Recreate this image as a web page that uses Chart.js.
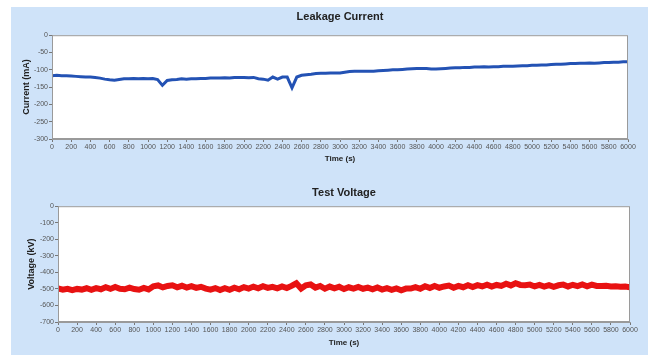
<!DOCTYPE html>
<html>
<head>
<meta charset="utf-8">
<script src="https://cdn.jsdelivr.net/npm/chart.js@4"></script>
<style>
  body { margin: 0; background: #fff; }
  #panel { position: absolute; left: 11px; top: 7px; width: 637px; height: 348px; background: #cfe3f9; }
  #c1 { position: absolute; left: 0; top: 0; }
  #c2 { position: absolute; left: 0; top: 163px; }
</style>
</head>
<body>
<div id="panel">
  <canvas id="c1" width="637" height="163"></canvas>
  <canvas id="c2" width="637" height="185"></canvas>
</div>
<script>
const times = [
  0, 50, 100, 150, 200, 250, 300, 350, 400, 450,
  500, 550, 600, 650, 700, 750, 800, 850, 900, 950,
  1000, 1050, 1100, 1150, 1200, 1250, 1300, 1350, 1400, 1450,
  1500, 1550, 1600, 1650, 1700, 1750, 1800, 1850, 1900, 1950,
  2000, 2050, 2100, 2150, 2200, 2250, 2300, 2350, 2400, 2450,
  2500, 2550, 2600, 2650, 2700, 2750, 2800, 2850, 2900, 2950,
  3000, 3050, 3100, 3150, 3200, 3250, 3300, 3350, 3400, 3450,
  3500, 3550, 3600, 3650, 3700, 3750, 3800, 3850, 3900, 3950,
  4000, 4050, 4100, 4150, 4200, 4250, 4300, 4350, 4400, 4450,
  4500, 4550, 4600, 4650, 4700, 4750, 4800, 4850, 4900, 4950,
  5000, 5050, 5100, 5150, 5200, 5250, 5300, 5350, 5400, 5450,
  5500, 5550, 5600, 5650, 5700, 5750, 5800, 5850, 5900, 5950,
  6000
];

// leakage current (mA)
const current = [
  -117, -116, -117, -117, -118, -119, -120, -121, -121, -122,
  -124, -127, -129, -130, -128, -126, -126, -125, -126, -125,
  -126, -125, -128, -145, -131, -129, -128, -126, -127, -126,
  -126, -125, -125, -124, -124, -124, -123, -124, -122, -122,
  -122, -123, -122, -126, -127, -130, -121, -127, -121, -121,
  -152, -121, -116, -114, -113, -111, -110, -110, -109, -109,
  -109, -107, -105, -104, -104, -104, -104, -104, -103, -102,
  -101, -100, -100, -99, -98, -97, -96, -96, -96, -98,
  -98, -97, -96, -95, -94, -94, -93, -93, -92, -92,
  -91, -92, -91, -91, -90, -90, -90, -89, -88, -88,
  -87, -87, -86, -86, -85, -84, -84, -83, -82, -82,
  -81, -81, -80, -81, -80, -79, -79, -78, -78, -77,
  -77
];

// test voltage (kV)
const voltage = [
  -497, -505, -499, -507, -500, -504, -496, -506, -495, -502,
  -490, -500, -488, -499, -502, -492, -501, -505, -494, -503,
  -484, -479, -491, -482, -478, -490, -481, -492, -483, -494,
  -487, -498, -504, -495, -507, -496, -505, -493, -502, -489,
  -498, -486, -496, -484, -494, -487, -496, -485, -495, -482,
  -466, -498, -478, -473, -492, -482, -499, -486, -497, -487,
  -501, -490, -498, -488, -499, -492, -502, -491, -504, -495,
  -506, -497, -508, -498, -498, -489, -499, -484, -494, -482,
  -493, -485, -480, -493, -482, -490, -478, -489, -477, -485,
  -474, -486, -476, -482, -469, -479, -466, -476, -478, -474,
  -485, -476, -486, -477, -487, -478, -474, -485, -475, -483,
  -473, -484, -474, -482, -482, -481, -485, -484, -487, -486,
  -490
];

const plotBox = {
  id: 'plotBox',
  beforeDraw(chart) {
    const a = chart.chartArea, ctx = chart.ctx;
    ctx.save();
    ctx.fillStyle = '#fff';
    ctx.fillRect(a.left, a.top, a.right - a.left, a.bottom - a.top);
    ctx.restore();
  },
  afterDraw(chart) {
    const a = chart.chartArea, ctx = chart.ctx;
    ctx.save();
    ctx.strokeStyle = '#9a9a9a';
    ctx.lineWidth = 1;
    ctx.strokeRect(a.left + 0.5, a.top + 0.5, a.right - a.left - 1, a.bottom - a.top - 1);
    ctx.restore();
  }
};

function make_options(title, yTitle, yMin, yStep, s) {
  return {
    responsive: false,
    animation: false,
    layout: { padding: { left: 0, right: s.right, top: 0, bottom: s.bottom } },
    plugins: {
      legend: { display: false },
      tooltip: { enabled: false },
      title: {
        display: true,
        fullSize: false,
        text: title,
        color: '#222',
        font: { family: 'Liberation Sans', size: 11, weight: 'bold' },
        padding: { top: s.titleTop, bottom: s.titleBottom }
      }
    },
    scales: {
      x: {
        type: 'linear',
        min: 0,
        max: 6000,
        grid: { drawOnChartArea: false, tickLength: 3, color: '#777' },
        border: { color: '#9a9a9a' },
        ticks: {
          stepSize: 200,
          autoSkip: false,
          maxRotation: 0,
          padding: 1,
          color: '#555',
          font: { family: 'Liberation Sans', size: 7 },
          callback: (v) => String(v)
        },
        title: {
          display: true,
          text: 'Time (s)',
          color: '#222',
          font: { family: 'Liberation Sans', size: 8, weight: 'bold' },
          padding: { top: 2, bottom: 0 }
        },
        afterFit(scale) { scale.height = s.xHeight; }
      },
      y: {
        min: yMin,
        max: 0,
        grid: { drawOnChartArea: false, tickLength: 3, color: '#777' },
        border: { color: '#9a9a9a' },
        ticks: {
          stepSize: yStep,
          padding: 1,
          color: '#555',
          font: { family: 'Liberation Sans', size: 7 },
          callback: (v) => String(v)
        },
        title: {
          display: true,
          text: yTitle,
          color: '#222',
          font: { family: 'Liberation Sans', size: 9, weight: 'bold' },
          padding: { top: s.yTitlePad, bottom: 0 }
        },
        afterFit(scale) { scale.width = s.yWidth; }
      }
    }
  };
}

new Chart(document.getElementById('c1'), {
  type: 'line',
  data: {
    labels: times,
    datasets: [{
      data: current,
      borderColor: '#2352b4',
      borderWidth: 3,
      pointRadius: 0,
      tension: 0
    }]
  },
  options: make_options('Leakage Current', 'Current (mA)', -300, 50,
    { right: 20, bottom: 6, titleTop: 3, titleBottom: 12, xHeight: 25, yWidth: 41, yTitlePad: 10 }),
  plugins: [plotBox]
});

new Chart(document.getElementById('c2'), {
  type: 'line',
  data: {
    labels: times,
    datasets: [{
      data: voltage,
      borderColor: '#e81212',
      borderWidth: 6,
      pointRadius: 0,
      tension: 0
    }]
  },
  options: make_options('Test Voltage', 'Voltage (kV)', -700, 100,
    { right: 18, bottom: 7, titleTop: 16, titleBottom: 7, xHeight: 26, yWidth: 47, yTitlePad: 15 }),
  plugins: [plotBox]
});
</script>
</body>
</html>
